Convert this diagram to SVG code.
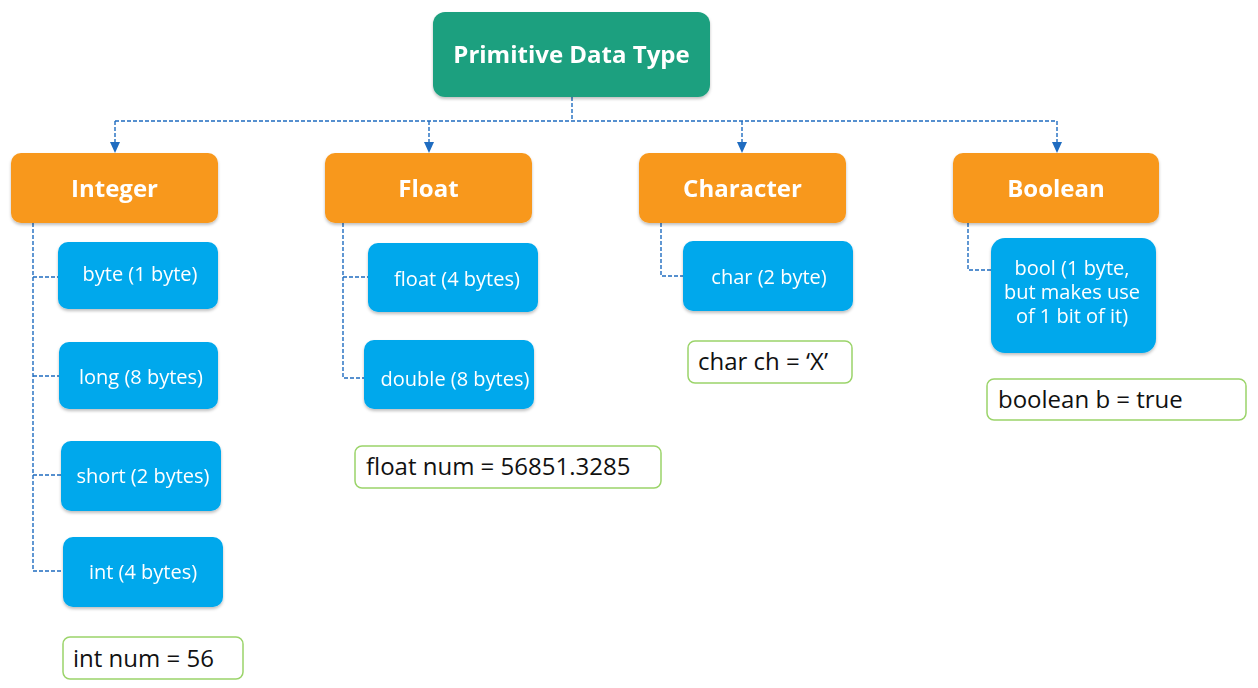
<svg xmlns="http://www.w3.org/2000/svg" width="1258" height="688" viewBox="0 0 1258 688">
<style>
text{font-family:"Open Sans","Noto Sans","Liberation Sans",sans-serif}
.root{fill:#1fa07f}
.cat{fill:#f8981d}
.leaf{fill:#02a8ec}
.ex{fill:#fff;stroke:#9bd46a;stroke-width:1.5}
.h{fill:#fff;font-weight:bold;font-size:24px;text-anchor:middle}
.l{fill:#fff;font-size:20px;text-anchor:middle}
.e{fill:#111;font-size:24px}
.c{fill:none;stroke:#1f6cc0;stroke-width:1.4;stroke-dasharray:4 2}
.a{fill:#1f6cc0}
</style>
<defs>
<filter id="sh" x="-10%" y="-10%" width="120%" height="130%">
<feDropShadow dx="0" dy="2" stdDeviation="1.5" flood-color="#000" flood-opacity="0.25"/>
</filter>
</defs>
<g id="connectors">
<path class="c" d="M572,97 V121 M115,121 H1057"/>
<path class="c" d="M115,121 V144"/>
<path class="c" d="M429,121 V144"/>
<path class="c" d="M742,121 V144"/>
<path class="c" d="M1057,121 V144"/>
<path class="a" d="M110,142 L120,142 L115,153 Z"/>
<path class="a" d="M424,142 L434,142 L429,153 Z"/>
<path class="a" d="M737,142 L747,142 L742,153 Z"/>
<path class="a" d="M1052,142 L1062,142 L1057,153 Z"/>
<path class="c" d="M33,223 V571 H63 M33,277 H58 M33,376 H59 M33,475 H61"/>
<path class="c" d="M343,223 V378 H364 M343,277 H368"/>
<path class="c" d="M661,223 V276 H683"/>
<path class="c" d="M968,223 V270 H991"/>
</g>
<g id="root" filter="url(#sh)"><rect class="root" x="433" y="12" width="277" height="85" rx="12"/><text class="h" x="571.5" y="63">Primitive Data Type</text></g>
<g id="integer" filter="url(#sh)"><rect class="cat" x="11" y="153" width="207" height="70" rx="10"/><text class="h" x="114.5" y="197">Integer</text></g>
<g id="float" filter="url(#sh)"><rect class="cat" x="325" y="153" width="207" height="70" rx="10"/><text class="h" x="428.5" y="197">Float</text></g>
<g id="character" filter="url(#sh)"><rect class="cat" x="639" y="153" width="207" height="70" rx="10"/><text class="h" x="742.5" y="197">Character</text></g>
<g id="boolean" filter="url(#sh)"><rect class="cat" x="953" y="153" width="206" height="70" rx="10"/><text class="h" x="1056" y="197">Boolean</text></g>
<g id="byte" filter="url(#sh)"><rect class="leaf" x="58" y="242" width="160" height="67" rx="10"/><text class="l" x="140" y="281">byte (1 byte)</text></g>
<g id="long" filter="url(#sh)"><rect class="leaf" x="59" y="342" width="159" height="67" rx="10"/><text class="l" x="141" y="384">long (8 bytes)</text></g>
<g id="short" filter="url(#sh)"><rect class="leaf" x="61" y="441" width="160" height="70" rx="10"/><text class="l" x="143" y="483">short (2 bytes)</text></g>
<g id="int" filter="url(#sh)"><rect class="leaf" x="63" y="537" width="160" height="70" rx="10"/><text class="l" x="143" y="579">int (4 bytes)</text></g>
<g id="int-example"><rect class="ex" x="63" y="637" width="180" height="42" rx="7"/><text class="e" x="73" y="667">int num = 56</text></g>
<g id="float4" filter="url(#sh)"><rect class="leaf" x="368" y="243" width="170" height="69" rx="10"/><text class="l" x="457" y="286">float (4 bytes)</text></g>
<g id="double" filter="url(#sh)"><rect class="leaf" x="364" y="340" width="170" height="69" rx="10"/><text class="l" x="455" y="386">double (8 bytes)</text></g>
<g id="float-example"><rect class="ex" x="355" y="446" width="306" height="42" rx="7"/><text class="e" x="366" y="475">float num = 56851.3285</text></g>
<g id="char" filter="url(#sh)"><rect class="leaf" x="683" y="241" width="170" height="70" rx="10"/><text class="l" x="769" y="284">char (2 byte)</text></g>
<g id="char-example"><rect class="ex" x="688" y="341" width="164" height="42" rx="7"/><text class="e" x="698" y="370">char ch = ‘X’</text></g>
<g id="bool" filter="url(#sh)"><rect class="leaf" x="991" y="238" width="165" height="115" rx="14"/><text class="l" x="1072" y="275"><tspan x="1072" y="275">bool (1 byte,</tspan><tspan x="1072" y="299">but makes use</tspan><tspan x="1072" y="323">of 1 bit of it)</tspan></text></g>
<g id="boolean-example"><rect class="ex" x="987" y="379" width="259" height="41" rx="7"/><text class="e" x="998" y="408">boolean b = true</text></g>
</svg>
